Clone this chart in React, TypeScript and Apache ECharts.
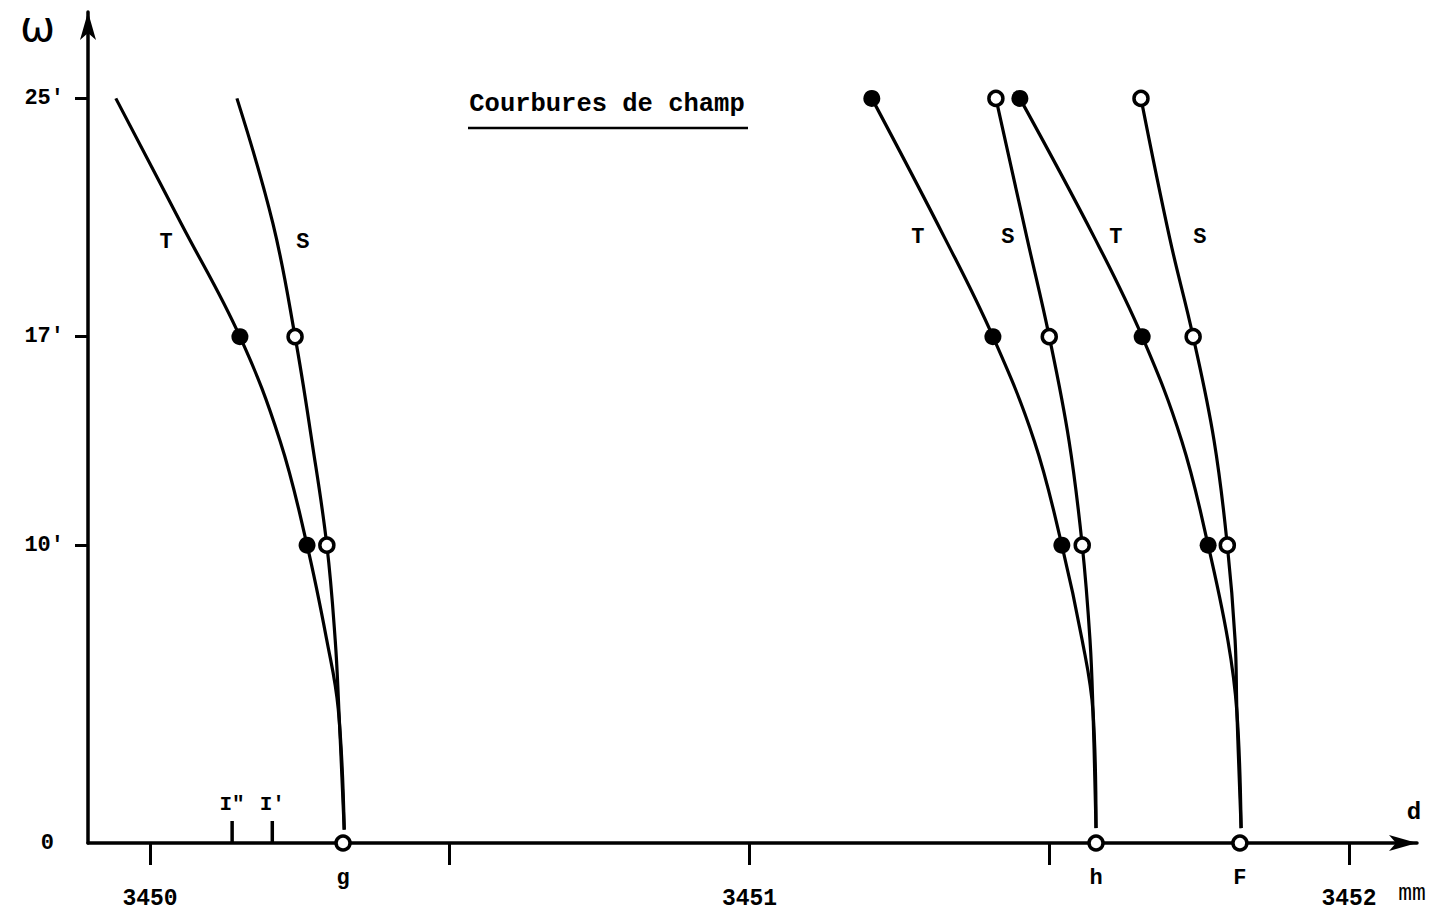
import React, { useEffect, useRef } from "react";
import * as echarts from "echarts";

// Axis ticks and labels
const xTicks = [3450, 3450.5, 3451, 3451.5, 3452];
const xTickLabels = [3450, 3451, 3452];
const yTicks = [10, 17, 25];
const yTickLabels = [0, 10, 17, 25];

// Field curvature curves: [d (mm), ω (')]
const tCurveG = [[3449.943, 25], [3450.052, 20.8], [3450.15, 17], [3450.217, 13.5], [3450.262, 10], [3450.295, 6.8], [3450.314, 4.5], [3450.324, 0.45]];
const sCurveG = [[3450.145, 25], [3450.205, 20.8], [3450.242, 17], [3450.27, 13.5], [3450.295, 10], [3450.309, 6.8], [3450.315, 4.5], [3450.324, 0.45]];
const tCurveH = [[3451.204, 25], [3451.326, 20.3], [3451.406, 17], [3451.475, 13.5], [3451.521, 10], [3451.555, 6.8], [3451.573, 4.4], [3451.578, 0.5]];
const sCurveH = [[3451.411, 25], [3451.463, 20.3], [3451.5, 17], [3451.533, 13.5], [3451.555, 10], [3451.568, 6.8], [3451.573, 4.4], [3451.578, 0.5]];
const tCurveF = [[3451.451, 25], [3451.576, 20.3], [3451.655, 17], [3451.721, 13.5], [3451.765, 10], [3451.798, 6.8], [3451.813, 4.4], [3451.82, 0.5]];
const sCurveF = [[3451.653, 25], [3451.701, 20.3], [3451.74, 17], [3451.775, 13.5], [3451.797, 10], [3451.81, 6.8], [3451.813, 4.4], [3451.82, 0.5]];

// Measured points
const tMarkers = [[3450.15, 17], [3450.262, 10], [3451.204, 25], [3451.406, 17], [3451.521, 10], [3451.451, 25], [3451.655, 17], [3451.765, 10]];
const sMarkers = [[3450.242, 17], [3450.295, 10], [3451.411, 25], [3451.5, 17], [3451.555, 10], [3451.653, 25], [3451.74, 17], [3451.797, 10]];

// Foci on the axis
const focusPoints = [
  { name: "g", value: [3450.322, 0] },
  { name: "h", value: [3451.578, 0] },
  { name: "F", value: [3451.818, 0] },
];
// Image marks I", I'
const imagePoints = [
  { name: 'I"', value: [3450.137, 0] },
  { name: "I'", value: [3450.204, 0] },
];
// Curve labels
const curveLabels = [
  { name: "T", value: [3450.027, 20.17] },
  { name: "S", value: [3450.255, 20.17] },
  { name: "T", value: [3451.281, 20.34] },
  { name: "S", value: [3451.431, 20.34] },
  { name: "T", value: [3451.611, 20.34] },
  { name: "S", value: [3451.751, 20.34] },
];

const FONT = "'Liberation Mono', 'DejaVu Sans Mono', monospace";

export default function App() {
  const ref = useRef<HTMLDivElement>(null);
  useEffect(() => {
    document.body.style.margin = "0";
    const chart = echarts.init(ref.current!, null, { renderer: "svg" });
    const curve = (data: number[][]) => ({
      type: "line",
      data,
      smooth: 0.4,
      showSymbol: false,
      silent: true,
      lineStyle: { color: "#000", width: 3.2 },
      z: 2,
    });
    chart.setOption({
      animation: false,
      backgroundColor: "#fff",
      grid: { left: 88, right: 14, top: 12, bottom: 76, containLabel: false, outerBoundsMode: "none" },
      xAxis: {
        type: "value",
        min: 3449.8966,
        max: 3452.1134,
        splitLine: { show: false },
        axisLine: {
          show: true,
          symbol: ["none", "arrow"],
          symbolSize: [12, 28],
          lineStyle: { color: "#000", width: 3.5 },
        },
        axisTick: {
          show: true,
          customValues: xTicks,
          length: 22,
          lineStyle: { color: "#000", width: 3 },
        },
        axisLabel: {
          customValues: xTickLabels,
          margin: 44,
          color: "#000",
          fontFamily: FONT,
          fontWeight: "bold",
          fontSize: 23,
          formatter: (v: number) => String(v),
        },
      },
      yAxis: {
        type: "value",
        min: 0,
        max: 27.9,
        splitLine: { show: false },
        axisLine: {
          show: true,
          symbol: ["none", "arrow"],
          symbolSize: [12, 28],
          lineStyle: { color: "#000", width: 3.5 },
        },
        axisTick: {
          show: true,
          customValues: yTicks,
          length: 13,
          lineStyle: { color: "#000", width: 3 },
        },
        axisLabel: {
          customValues: yTickLabels,
          margin: 24,
          color: "#000",
          fontFamily: FONT,
          fontWeight: "bold",
          fontSize: 22,
          formatter: (v: number) => (v === 0 ? "{z|0}" : `${v}'`),
          rich: {
            z: { padding: [0, 10, 0, 0], fontFamily: FONT, fontWeight: "bold", fontSize: 22, color: "#000" },
          },
        },
      },
      graphic: [
        {
          type: "text",
          left: 20,
          top: 5,
          style: { text: "ω", fontSize: 42, fontFamily: "'DejaVu Sans', sans-serif", fill: "#000" },
        },
        {
          type: "text",
          x: 1414,
          y: 812,
          style: { text: "d", fontSize: 24, fontWeight: "bold", fontFamily: FONT, fill: "#000", align: "center", verticalAlign: "middle" },
        },
        {
          type: "text",
          x: 1412,
          y: 894,
          style: { text: "mm", fontSize: 23, fontFamily: FONT, fill: "#000", align: "center", verticalAlign: "middle" },
        },
        {
          type: "text",
          x: 607,
          y: 104,
          style: { text: "Courbures de champ", fontSize: 25.5, fontWeight: "bold", fontFamily: FONT, fill: "#000", align: "center", verticalAlign: "middle" },
        },
        {
          type: "line",
          shape: { x1: 468, y1: 128, x2: 748, y2: 128 },
          style: { stroke: "#000", lineWidth: 2.5 },
        },
      ],
      series: [
        curve(tCurveG),
        curve(sCurveG),
        curve(tCurveH),
        curve(sCurveH),
        curve(tCurveF),
        curve(sCurveF),
        {
          type: "scatter",
          data: tMarkers,
          symbol: "circle",
          symbolSize: 17,
          itemStyle: { color: "#000", opacity: 1 },
          silent: true,
          z: 5,
        },
        {
          type: "scatter",
          data: sMarkers,
          symbol: "circle",
          symbolSize: 14,
          itemStyle: { color: "#fff", borderColor: "#000", borderWidth: 3.5, opacity: 1 },
          silent: true,
          z: 5,
        },
        {
          type: "scatter",
          data: focusPoints,
          symbol: "circle",
          symbolSize: 14,
          itemStyle: { color: "#fff", borderColor: "#000", borderWidth: 3.5, opacity: 1 },
          label: {
            show: true,
            position: "bottom",
            distance: 16,
            formatter: "{b}",
            color: "#000",
            fontFamily: FONT,
            fontWeight: "bold",
            fontSize: 22,
          },
          silent: true,
          z: 6,
        },
        {
          type: "scatter",
          data: imagePoints,
          symbol: "rect",
          symbolSize: [3.5, 22],
          symbolOffset: [0, -11],
          itemStyle: { color: "#000", opacity: 1 },
          label: {
            show: true,
            position: "top",
            distance: 6,
            formatter: "{b}",
            color: "#000",
            fontFamily: FONT,
            fontWeight: "bold",
            fontSize: 21,
          },
          silent: true,
          z: 4,
        },
        {
          type: "scatter",
          data: curveLabels,
          symbol: "circle",
          symbolSize: 1,
          itemStyle: { color: "#fff", opacity: 1 },
          label: {
            show: true,
            position: [0.5, 0.5],
            align: "center",
            verticalAlign: "middle",
            formatter: "{b}",
            color: "#000",
            opacity: 1,
            fontFamily: FONT,
            fontWeight: "bold",
            fontSize: 22,
          },
          silent: true,
          z: 4,
        },
      ],
    });
    return () => chart.dispose();
  }, []);
  return (
    <div
      ref={ref}
      style={{ position: "absolute", left: 0, top: 0, width: 1431, height: 919, background: "#fff" }}
    />
  );
}
